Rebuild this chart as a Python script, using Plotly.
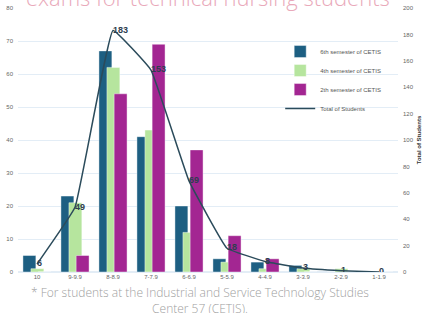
import plotly.graph_objects as go

categories = ["10", "9-9.9", "8-8.9", "7-7.9", "6-6.9", "5-5.9", "4-4.9", "3-3.9", "2-2.9", "1-1.9"]
sem6 = [5, 23, 67, 41, 20, 4, 3, 2, 0, 0]
sem4 = [1, 21, 62, 43, 12, 3, 1, 1, 1, 0]
sem2 = [0, 5, 54, 69, 37, 11, 4, 0, 0, 0]
total = [6, 49, 183, 153, 69, 18, 8, 3, 1, 0]

fig = go.Figure()
bar_specs = [
    ("6th semester of CETIS", sem6, "#1d5f82", -0.37),
    ("4th semester of CETIS", sem4, "#b6e59e", -0.16),
    ("2th semester of CETIS", sem2, "#a32692", 0.03),
]
for name, vals, color, off in bar_specs:
    fig.add_trace(go.Bar(
        x=categories, y=vals, name=name,
        marker=dict(color=color, line=dict(color="rgba(255,255,255,0.7)", width=0.6)),
        width=0.34, offset=off,
    ))

fig.add_trace(go.Scatter(
    x=categories, y=total, name="Total of Students", yaxis="y2",
    mode="lines+text", text=[str(v) for v in total], textposition="middle right",
    textfont=dict(size=9, color="#2e3e4e", family="Liberation Sans", weight="bold"),
    line=dict(color="#2b4b5b", width=1.5, shape="spline", smoothing=0.25),
))

fig.update_layout(
    width=424, height=313,
    margin=dict(l=18, r=26, t=8, b=41, autoexpand=False),
    paper_bgcolor="white", plot_bgcolor="white",
    barmode="overlay",
    font=dict(family="Liberation Sans", size=6, color="#666"),
    showlegend=True,
    legend=dict(x=0.69, y=0.89, xanchor="left", yanchor="top",
                font=dict(size=6, color="#555"), bgcolor="rgba(255,255,255,0)",
                tracegroupgap=0, itemwidth=30),
    xaxis=dict(showgrid=False, tickfont=dict(size=6, color="#666"), ticks="",
               showline=False, automargin=False),
    yaxis=dict(range=[0, 80], dtick=10, gridcolor="#e3edf6", gridwidth=1,
               tickfont=dict(size=6, color="#666"), zeroline=True,
               zerolinecolor="#e3edf6", ticklabelstandoff=4, automargin=False),
    yaxis2=dict(range=[0, 200], dtick=20, overlaying="y", side="right",
                showgrid=False, zeroline=False, tickfont=dict(size=6, color="#666"),
                title=dict(text="Total of Students", font=dict(size=6, color="#333", weight="bold"),
                           standoff=4),
                ticklabelstandoff=4, automargin=False),
    annotations=[
        dict(text="exams for technical nursing students", x=0.5, y=1, xref="paper", yref="paper",
             xanchor="center", yanchor="bottom", yshift=-6, showarrow=False,
             font=dict(size=22, color="#e9a9ba", family="Open Sans", weight=300)),
        dict(text="* For students at the Industrial and Service Technology Studies<br>Center 57 (CETIS).",
             x=0.479, y=-0.108, xref="paper", yref="paper", xanchor="center", yanchor="middle",
             showarrow=False, font=dict(size=12, color="#a0a0a0", family="Open Sans", weight=300)),
    ],
)

fig.write_html("out.html", config={"displayModeBar": False},
               post_script="document.body.style.margin='0';")
